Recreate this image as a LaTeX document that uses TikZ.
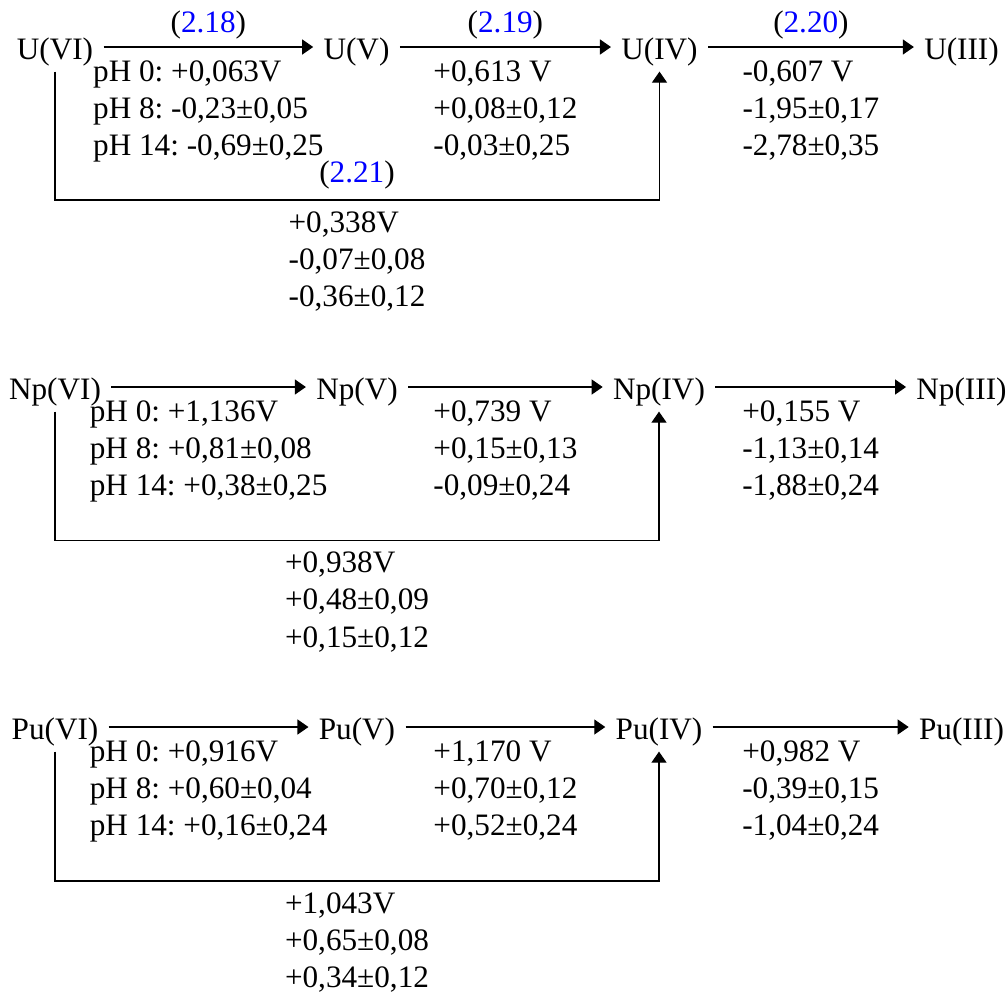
\documentclass[tikz,border=0pt]{standalone}
\usepackage{fontspec}
\setmainfont{Liberation Serif}
\usetikzlibrary{arrows.meta}
\begin{document}
\frenchspacing
\begin{tikzpicture}[x=0.5pt,y=-0.5pt,
  every node/.style={font=\fontsize{15.6}{18.6}\selectfont},
  ox/.style={inner xsep=5pt, inner ysep=3pt, text height=15.1pt, text depth=3.1pt},
  arr/.style={line width=0.6pt, -{Triangle[length=5.5pt,width=7.5pt]}},
  eq/.style={inner sep=0pt},
  vals/.style={below=6.5pt, inner sep=0pt, align=left},
  bvals/.style={below=5.5pt, inner sep=0pt, align=left},
  ]
\useasboundingbox (0,0) rectangle (1008,992);
% ---------- Uranium ----------
\node[ox] (u6) at (55,47) {U(VI)};
\node[ox] (u5) at (356.5,47) {U(V)};
\node[ox] (u4) at (659.5,47) {U(IV)};
\node[ox] (u3) at (961.5,47) {U(III)};
\draw[arr] (u6) -- node[eq, above=3.5pt] {(\textcolor{blue}{2.18})}
  node[vals] {pH 0: +0,063V\\pH 8: -0,23±0,05\\pH 14: -0,69±0,25} (u5);
\draw[arr] (u5) -- node[eq, above=3.5pt] {(\textcolor{blue}{2.19})}
  node[vals] {+0,613 V\\+0,08±0,12\\-0,03±0,25} (u4);
\draw[arr] (u4) -- node[eq, above=3.5pt] {(\textcolor{blue}{2.20})}
  node[vals] {-0,607 V\\-1,95±0,17\\-2,78±0,35} (u3);
\coordinate (ub) at (357,200);
\draw[arr] (u6.south) |- (ub) -| (u4.south);
\node[eq, above=5pt] (ueq) at (ub) {(\textcolor{blue}{2.21})};
\node[bvals] (uv) at (ub) {+0,338V\\-0,07±0,08\\-0,36±0,12};
% ---------- Neptunium ----------
\node[ox] (n6) at (55,387) {Np(VI)};
\node[ox] (n5) at (357,387) {Np(V)};
\node[ox] (n4) at (659,387) {Np(IV)};
\node[ox] (n3) at (961.5,387) {Np(III)};
\draw[arr] (n6) -- node[vals] {pH 0: +1,136V\\pH 8: +0,81±0,08\\pH 14: +0,38±0,25} (n5);
\draw[arr] (n5) -- node[vals] {+0,739 V\\+0,15±0,13\\-0,09±0,24} (n4);
\draw[arr] (n4) -- node[vals] {+0,155 V\\-1,13±0,14\\-1,88±0,24} (n3);
\coordinate (nb) at (357,540.5);
\draw[arr] (n6.south) |- (nb) -| (n4.south);
\node[bvals] (nv) at (nb) {+0,938V\\+0,48±0,09\\+0,15±0,12};
% ---------- Plutonium ----------
\node[ox] (p6) at (55,727) {Pu(VI)};
\node[ox] (p5) at (357,727) {Pu(V)};
\node[ox] (p4) at (659,727) {Pu(IV)};
\node[ox] (p3) at (961.5,727) {Pu(III)};
\draw[arr] (p6) -- node[vals] {pH 0: +0,916V\\pH 8: +0,60±0,04\\pH 14: +0,16±0,24} (p5);
\draw[arr] (p5) -- node[vals] {+1,170 V\\+0,70±0,12\\+0,52±0,24} (p4);
\draw[arr] (p4) -- node[vals] {+0,982 V\\-0,39±0,15\\-1,04±0,24} (p3);
\coordinate (pb) at (357,881);
\draw[arr] (p6.south) |- (pb) -| (p4.south);
\node[bvals] (pv) at (pb) {+1,043V\\+0,65±0,08\\+0,34±0,12};
\end{tikzpicture}
\end{document}
